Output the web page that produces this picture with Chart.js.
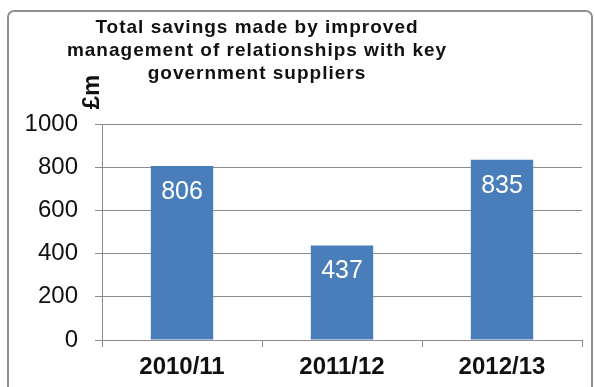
<!DOCTYPE html>
<html>
<head>
<meta charset="utf-8">
<script src="https://cdn.jsdelivr.net/npm/chart.js@4"></script>
<style>
  body { margin: 0; background: #fff; }
  #wrap { position: relative; width: 595px; height: 387px; overflow: hidden; }
  #frame {
    position: absolute; left: 7px; top: 10px; width: 582px; height: 400px;
    border: 2px solid #8f8f8f; border-radius: 7px;
  }
  #chartBox { position: absolute; left: 0; top: 0; width: 595px; height: 387px; }
  #title {
    position: absolute; left: 57px; top: 15px; width: 400px;
    font: bold 19px "Liberation Sans", Arial, sans-serif; line-height: 23px;
    letter-spacing: 1px; text-align: center; color: #111;
  }
  #unit {
    position: absolute; left: 71px; top: 77px; width: 40px; height: 30px;
    font: bold 24px "Liberation Sans", Arial, sans-serif; line-height: 30px;
    text-align: center; color: #111; transform: rotate(-90deg);
  }
</style>
</head>
<body>
<div id="wrap">
  <div id="frame"></div>
  <div id="chartBox"><canvas id="chart-savings"></canvas></div>
  <div id="title">Total savings made by improved<br>management of relationships with key<br>government suppliers</div>
  <div id="unit">£m</div>
</div>
<script>
// Savings per financial year, £m
const years = ['2010/11', '2011/12', '2012/13'];
const savings = [806, 437, 835];
const yTicks = [0, 200, 400, 600, 800, 1000];

const gridGray = '#8c8c8c';
const barBlue = '#4a7ebb';

// white value labels inside the top of each bar
const barValues = {
  id: 'barValues',
  afterDatasetsDraw(chart) {
    const ctx = chart.ctx;
    const meta = chart.getDatasetMeta(0);
    ctx.save();
    ctx.fillStyle = '#fff';
    ctx.font = '25px "Liberation Sans", Arial, sans-serif';
    ctx.textAlign = 'center';
    ctx.textBaseline = 'middle';
    meta.data.forEach((bar, i) => {
      ctx.fillText(String(chart.data.datasets[0].data[i]), bar.x, bar.y + 26);
    });
    ctx.restore();
  }
};

new Chart(document.getElementById('chart-savings'), {
  type: 'bar',
  data: {
    labels: years,
    datasets: [{
      label: 'Savings',
      data: savings,
      backgroundColor: barBlue,
      borderWidth: 0,
      categoryPercentage: 1,
      barPercentage: 0.39
    }]
  },
  options: {
    responsive: true,
    maintainAspectRatio: false,
    animation: false,
    layout: { padding: { left: 0, right: 13, top: 124, bottom: 0 } },
    plugins: {
      legend: { display: false },
      tooltip: { enabled: false }
    },
    scales: {
      x: {
        afterFit(scale) { scale.height = 47; },
        grid: { drawOnChartArea: false, color: gridGray, tickLength: 7, offset: true },
        border: { color: gridGray },
        ticks: {
          color: '#111',
          padding: 6,
          font: { family: '"Liberation Sans", Arial, sans-serif', size: 24, weight: 'bold' }
        }
      },
      y: {
        min: 0,
        max: 1000,
        afterFit(scale) { scale.width = 102; },
        afterBuildTicks(scale) { scale.ticks = yTicks.map(v => ({ value: v })); },
        grid: { color: gridGray, tickLength: 7 },
        border: { color: gridGray },
        ticks: {
          color: '#111',
          padding: 17,
          callback: v => String(v),
          font: { family: '"Liberation Sans", Arial, sans-serif', size: 24 }
        }
      }
    }
  },
  plugins: [barValues]
});
</script>
</body>
</html>
